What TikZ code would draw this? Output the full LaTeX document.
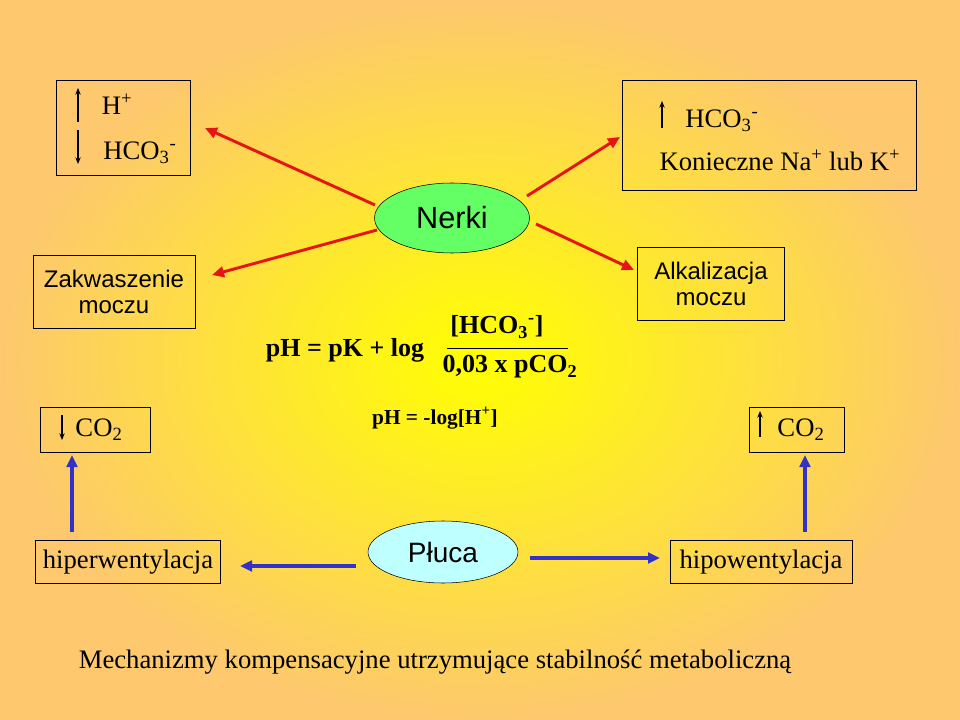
\documentclass[tikz,border=0pt]{standalone}
\usepackage{fontspec}
\setmainfont{Liberation Serif}
\newfontfamily\arialfont{Liberation Sans}
\usetikzlibrary{positioning,shapes.geometric,arrows.meta}
\definecolor{bgout}{RGB}{253,200,110}
\definecolor{nerkigreen}{RGB}{100,255,100}
\definecolor{plucacyan}{RGB}{190,255,255}
\definecolor{arrred}{RGB}{230,20,20}
\definecolor{arrblue}{RGB}{50,50,200}
\tikzset{
    infobox/.style={draw, thin, inner sep=0pt},
    organ/.style={ellipse, draw, thin, inner sep=0pt},
    redarrow/.style={arrred, line width=2.2pt, -{Triangle[length=9pt,width=8pt]}},
    bluearrow/.style={arrblue, line width=2.5pt, -{Triangle[length=9pt,width=8pt]}},
    thinarrow/.style={line width=0.8pt, -{Stealth[length=5pt,width=4pt]}},
    label/.style={font=\fontsize{20}{22}\selectfont, inner sep=0pt},
    sanslabel/.style={font=\arialfont\fontsize{18}{19}\selectfont, align=center, inner sep=0pt},
    formula/.style={font=\bfseries\fontsize{19.5}{21}\selectfont, inner sep=0pt}
}
\begin{document}
\begin{tikzpicture}[x=0.75pt, y=-0.75pt]
    \shade[inner color=yellow, outer color=bgout] (0,0) rectangle (960,720);
    \useasboundingbox (0,0) rectangle (960,720);

    % top-left box
    \draw[infobox] (56,80) rectangle (190,175);
    \draw[thinarrow] (78,122) -- (78,88);
    \draw[thinarrow] (78,130) -- (78,164);
    \node[label] (hplus) at (117,104) {H\textsuperscript{+}};
    \node[label] (hcoleft) at (140,153) {HCO\textsubscript{3}\textsuperscript{-}};

    % top-right box
    \draw[infobox] (622,80) rectangle (916,190);
    \draw[thinarrow] (662,128) -- (662,101);
    \node[label] (hcoright) at (722,121) {HCO\textsubscript{3}\textsuperscript{-}};
    \node[label] (konieczne) at (780,160) {Konieczne Na\textsuperscript{+} lub K\textsuperscript{+}};

    % organs
    \node[organ, fill=nerkigreen, minimum width=155pt*0.75, minimum height=70pt*0.75,
          font=\arialfont\fontsize{23}{25}\selectfont] (nerki) at (452,218) {Nerki};
    \node[organ, fill=plucacyan, minimum width=150pt*0.75, minimum height=62pt*0.75,
          font=\arialfont\fontsize{21}{23}\selectfont] (pluca) at (443,552) {Płuca};

    % urine boxes
    \node[infobox, sanslabel, minimum width=162pt*0.75, minimum height=73pt*0.75] (zakw) at (114,292) {Zakwaszenie\\moczu};
    \node[infobox, sanslabel, minimum width=147pt*0.75, minimum height=73pt*0.75] (alk) at (711,284) {Alkalizacja\\moczu};

    % formulas
    \node[formula] (henders) at (345,350) {pH = pK + log};
    \node[formula] (numer) at (497,327) {[HCO\textsubscript{3}\textsuperscript{-}]};
    \node[formula] (denom) at (510,367) {0,03 x pCO\textsubscript{2}};
    \draw[thin] (447,348) -- (568,348);
    \node[font=\bfseries\fontsize{16}{18}\selectfont, inner sep=0pt] (phlog) at (435,418) {pH = -log[H\textsuperscript{+}]};

    % CO2 boxes
    \node[infobox, label, minimum width=110pt*0.75, minimum height=45pt*0.75] (co2left) at (95,430) {\hspace{6pt}CO\textsubscript{2}};
    \draw[thinarrow] (62,415) -- (62,440);
    \node[infobox, label, minimum width=95pt*0.75, minimum height=45pt*0.75] (co2right) at (797,430) {\hspace{6pt}CO\textsubscript{2}};
    \draw[thinarrow] (760,437) -- (760,411);

    % ventilation boxes
    \node[infobox, label, minimum width=185pt*0.75, minimum height=43pt*0.75] (hiper) at (128,562) {hiperwentylacja};
    \node[infobox, label, minimum width=182pt*0.75, minimum height=43pt*0.75] (hipo) at (761,562) {hipowentylacja};

    % red arrows from Nerki
    \draw[redarrow] (375,205) -- (205,128);
    \draw[redarrow] (377,230) -- (212,275);
    \draw[redarrow] (527,196) -- (620,137);
    \draw[redarrow] (536,224) -- (634,270);

    % blue arrows
    \draw[bluearrow] (356,566) -- (240,566);
    \draw[bluearrow] (530,558) -- (660,558);
    \draw[bluearrow] (72,532) -- (72,455);
    \draw[bluearrow] (805,532) -- (805,455);

    \node[font=\fontsize{20}{22}\selectfont, inner sep=0pt] (caption) at (435,662) {Mechanizmy kompensacyjne utrzymujące stabilność metaboliczną};
\end{tikzpicture}
\end{document}
